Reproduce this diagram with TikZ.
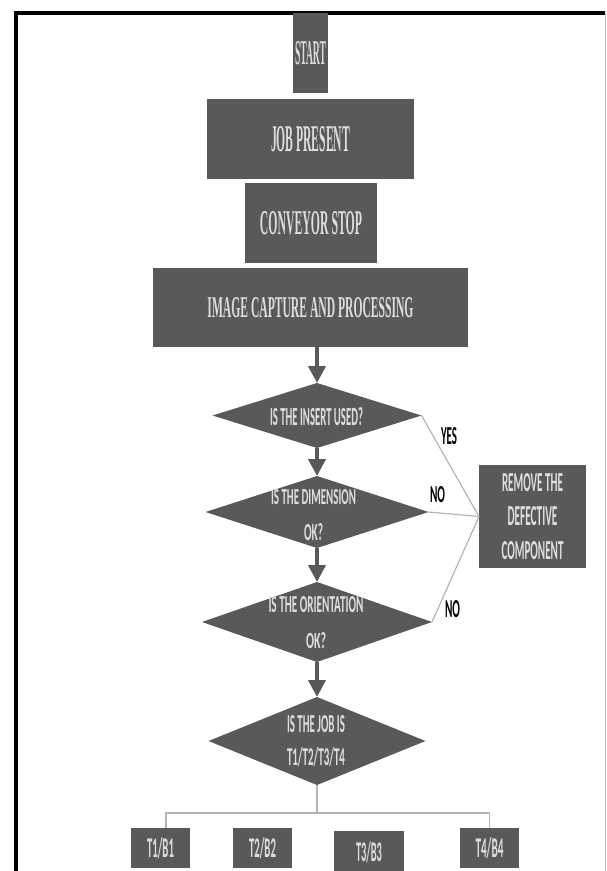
\documentclass[tikz,border=0pt]{standalone}
\usepackage{fontspec}
\usepackage{graphicx}
\setmainfont{Liberation Serif}
\newfontfamily\cond{Carlito}
\usetikzlibrary{shapes.geometric,arrows.meta}
\definecolor{boxgrey}{HTML}{595959}
\definecolor{txtgrey}{HTML}{DEDEDE}
\definecolor{linegrey}{HTML}{B4B4B4}
% squeeze a text into a given width/height (pt)
\newcommand{\sqz}[3]{\resizebox{#1pt}{#2pt}{#3}}

\begin{document}
\begin{tikzpicture}[x=1pt,y=-1pt,
  every node/.style={inner sep=0pt,outer sep=0pt},
  blk/.style={rectangle,fill=boxgrey,text=txtgrey,align=center,font=\bfseries\fontsize{10}{10}\selectfont},
  tbox/.style={blk,font=\cond\bfseries\fontsize{10}{10}\selectfont},
  dec/.style={diamond,fill=boxgrey},
  dtxt/.style={text=txtgrey,align=center,font=\cond\bfseries\fontsize{10}{10}\selectfont},
  ans/.style={text=black,font=\cond\bfseries\fontsize{10}{10}\selectfont},
  flow/.style={draw=boxgrey,line width=4pt,-{Triangle[width=17pt,length=17pt]}},
  link/.style={draw=linegrey,line width=1.2pt}
]
\useasboundingbox (0,0) rectangle (607,871);
% frame
\draw[line width=4.5pt] (16,871) -- (16,13) -- (605,13);
\draw[gray!50,line width=1pt] (605,13) -- (605,871);

% top blocks
\node[blk,minimum width=35pt,minimum height=80pt] (start) at (310.5,53) {\sqz{31}{23}{START}};
\node[blk,minimum width=207pt,minimum height=80pt] (job) at (310.5,139) {\sqz{79}{25}{JOB PRESENT}};
\node[blk,minimum width=132pt,minimum height=80pt] (conv) at (311,223) {\sqz{102}{23}{CONVEYOR STOP}};
\node[blk,minimum width=315pt,minimum height=79pt] (img) at (310.5,307.5) {\sqz{206}{20}{IMAGE CAPTURE AND PROCESSING}};

% decisions
\node[dec,minimum width=209pt,minimum height=65pt] (D1) at (317,415.5) {};
\node[dtxt] (D1t) at (316.5,417) {\sqz{93}{18}{IS THE INSERT USED?}};
\node[dec,minimum width=223pt,minimum height=72pt] (D2) at (317,512) {};
\node[dtxt] (D2t) at (313.5,515) {\sqz{85}{15}{IS THE DIMENSION}\\[17pt]\sqz{19}{17}{OK?}};
\node[dec,minimum width=230pt,minimum height=80pt] (D3) at (317,622) {};
\node[dtxt] (D3t) at (316,622.5) {\sqz{95}{16}{IS THE ORIENTATION}\\[18pt]\sqz{20}{16}{OK?}};
\node[dec,minimum width=217pt,minimum height=88pt] (D4) at (317,741) {};
\node[dtxt] (D4t) at (316,741) {\sqz{58}{17}{IS THE JOB IS}\\[14pt]\sqz{58}{18}{T1/T2/T3/T4}};

% reject
\node[tbox,minimum width=107pt,minimum height=103pt] (rem) at (532.5,516.5)
  {\sqz{61}{18}{REMOVE THE}\\[14pt]\sqz{50}{19}{DEFECTIVE}\\[14pt]\sqz{62}{18}{COMPONENT}};
\node[ans] (yes) at (449,436.5) {\sqz{16}{17}{YES}};
\node[ans] (no1) at (437.5,495) {\sqz{15}{16}{NO}};
\node[ans] (no2) at (452.5,609) {\sqz{15}{17}{NO}};

% bins
\node[tbox,minimum width=59pt,minimum height=40pt] (T1) at (160.5,848) {\sqz{27}{20}{T1/B1}};
\node[tbox,minimum width=59pt,minimum height=40pt] (T2) at (262.5,848) {\sqz{27}{20}{T2/B2}};
\node[tbox,minimum width=70pt,minimum height=42pt] (T3) at (369,852) {\sqz{26}{20}{T3/B3}};
\node[tbox,minimum width=59pt,minimum height=40pt] (T4) at (489.5,848) {\sqz{28}{20}{T4/B4}};
\coordinate (bus) at (317,813);

% connectors
\draw[flow] (img.south -| D1.north) -- (D1.north);
\draw[flow] (D1.south) -- (D2.north);
\draw[flow] (D2.south) -- (D3.north);
\draw[flow] (D3.south) -- (D4.north);
\draw[link] (D1.east) -- (rem.west);
\draw[link] (D2.east) -- (rem.west);
\draw[link] (D3.east) -- (rem.west);
\draw[link] (D4.south) -- (bus);
\draw[link] ([xshift=5.5pt]T1.north) |- (bus) -| (T4.north);
\end{tikzpicture}
\end{document}
